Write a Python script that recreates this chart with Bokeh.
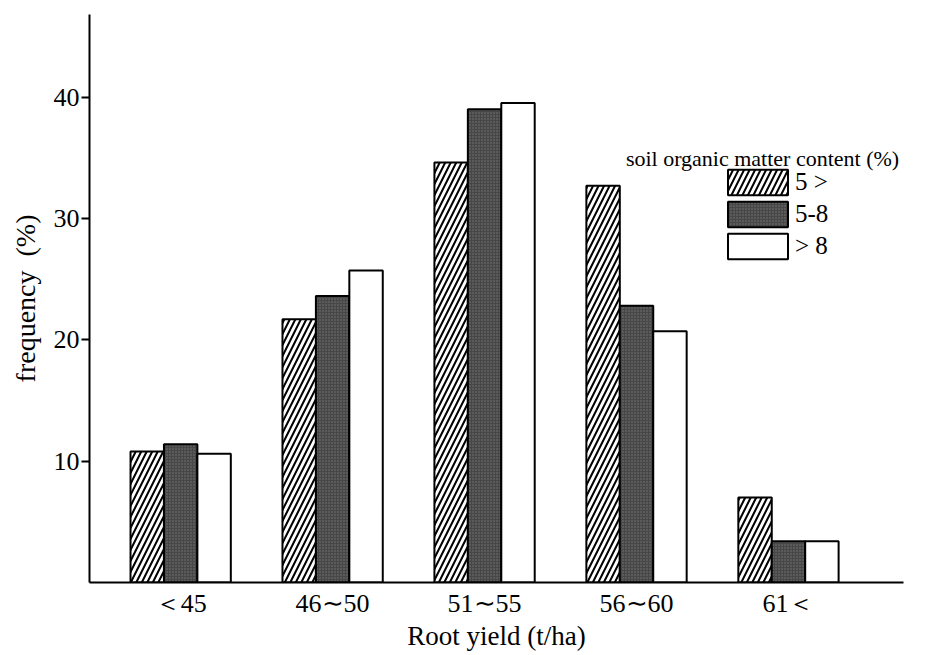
from bokeh.plotting import figure
from bokeh.models import Range1d, FixedTicker, Legend, LegendItem, Label, ColumnDataSource
from bokeh.transform import dodge
from bokeh.embed import file_html
from bokeh.resources import INLINE

categories = ["＜45", "46∼50", "51∼55", "56∼60", "61＜"]
series_names = ["5 >", "5-8", "> 8"]
low_om = [10.8, 21.7, 34.6, 32.7, 7.0]     # 5 >
mid_om = [11.4, 23.6, 39.0, 22.8, 3.4]     # 5-8
high_om = [10.6, 25.7, 39.5, 20.7, 3.4]    # > 8
y_ticks = [10, 20, 30, 40]
legend_title = "soil organic matter content (%)"

FONT = "Liberation Serif"
idx = list(range(len(categories)))
src = ColumnDataSource(dict(x=idx, low=low_om, mid=mid_om, high=high_om))

p = figure(width=936, height=654, output_backend="svg", toolbar_location=None,
           x_range=Range1d(-0.6, 4.757), y_range=Range1d(0, 46.8),
           min_border_left=89, min_border_right=33, min_border_top=14, min_border_bottom=72)
p.outline_line_color = None
p.grid.visible = False
p.background_fill_color = "white"

w = 0.22
r1 = p.vbar(x=dodge("x", -w, range=p.x_range), top="low", width=w, source=src,
            fill_color="white", line_color="black", line_width=2,
            hatch_pattern="/", hatch_color="black", hatch_scale=11, hatch_weight=2)
r2 = p.vbar(x=dodge("x", 0, range=p.x_range), top="mid", width=w, source=src,
            fill_color="#474747", line_color="black", line_width=2,
            hatch_pattern="dot", hatch_color="#9a9a9a", hatch_scale=3, hatch_weight=1, hatch_alpha=0.6)
r3 = p.vbar(x=dodge("x", w, range=p.x_range), top="high", width=w, source=src,
            fill_color="white", line_color="black", line_width=2)

# axes
p.xaxis.ticker = FixedTicker(ticks=idx)
p.xaxis.major_label_overrides = {i: c for i, c in zip(idx, categories)}
p.yaxis.ticker = FixedTicker(ticks=y_ticks)
for ax in (p.xaxis, p.yaxis):
    ax.axis_line_width = 2
    ax.axis_line_color = "black"
    ax.major_label_text_font = FONT
    ax.major_label_text_font_size = "26px"
    ax.major_label_text_color = "black"
    ax.minor_tick_line_color = None
    ax.axis_label_text_font = FONT
    ax.axis_label_text_font_style = "normal"
    ax.axis_label_text_color = "black"
p.xaxis.major_tick_line_color = None
p.xaxis.major_tick_out = 0
p.xaxis.major_tick_in = 0
p.xaxis.major_label_standoff = 6
p.xaxis.axis_label = "Root yield (t/ha)"
p.xaxis.axis_label_text_font_size = "27px"
p.xaxis.axis_label_standoff = 0
p.yaxis.major_tick_in = 0
p.yaxis.major_tick_out = 8
p.yaxis.major_tick_line_width = 2
p.yaxis.major_tick_line_color = "black"
p.yaxis.major_label_standoff = 2
p.yaxis.axis_label = "frequency\u00a0\u00a0(%)"
p.yaxis.axis_label_text_font_size = "28px"
p.yaxis.axis_label_standoff = 10

legend = Legend(items=[LegendItem(label=n, renderers=[r]) for n, r in zip(series_names, [r1, r2, r3])],
                location=(631, 320), orientation="vertical",
                glyph_width=75, glyph_height=32, label_height=32, spacing=0,
                padding=0, margin=0, label_standoff=0,
                label_text_font=FONT, label_text_font_size="25px", label_text_color="black",
                background_fill_alpha=0, border_line_alpha=0)
p.add_layout(legend, "center")

title = Label(x=2.93, y=34.9, text=legend_title, text_font=FONT, text_font_size="22px",
              text_color="black", text_baseline="alphabetic", text_align="left")
p.add_layout(title)

open("out.html", "w").write(file_html(p, INLINE))
